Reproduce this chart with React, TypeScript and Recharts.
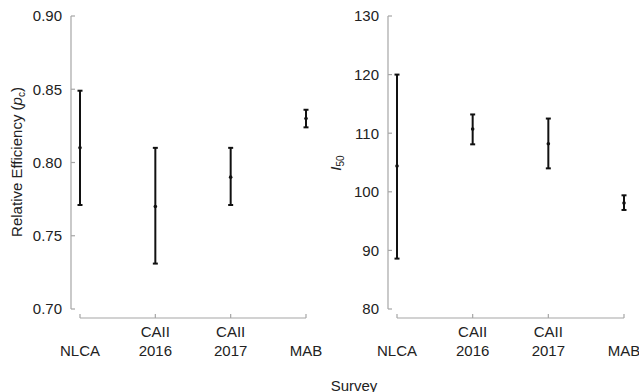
import { ScatterChart, Scatter, XAxis, YAxis, ErrorBar, Label } from "recharts"

const surveys = ["NLCA", "CAII\n2016", "CAII\n2017", "MAB"]

const effMean = [0.81, 0.77, 0.79, 0.83]
const effLow = [0.771, 0.731, 0.771, 0.824]
const effHigh = [0.849, 0.81, 0.81, 0.836]
const effTicks = [0.7, 0.75, 0.8, 0.85, 0.9]

const i50Mean = [104.4, 110.7, 108.2, 98.1]
const i50Low = [88.6, 108.1, 104.0, 96.9]
const i50High = [120.0, 113.2, 112.5, 99.4]
const i50Ticks = [80, 90, 100, 110, 120, 130]

const toRows = (mean: number[], low: number[], high: number[]) =>
  mean.map((m, i) => ({ x: i, y: m, err: [m - low[i], high[i] - m] }))

const effData = toRows(effMean, effLow, effHigh)
const i50Data = toRows(i50Mean, i50Low, i50High)

const FONT = "'Liberation Sans', Arial, sans-serif"
const AXIS = "#a6a6a6"
const TEXT = "#222"
const INK = "#111"

const SurveyTick = (props: any) => {
  const { x, y, payload } = props
  const lines = surveys[payload.value].split("\n")
  const start = lines.length === 1 ? 37.5 : 19
  return (
    <text x={x} y={y} textAnchor="middle" fill={TEXT} fontSize={15} fontFamily={FONT}>
      {lines.map((l, i) => (
        <tspan key={i} x={x} y={y + start + i * 18.5}>
          {l}
        </tspan>
      ))}
    </text>
  )
}

const Dot = (props: any) => <circle cx={props.cx} cy={props.cy} r={1.8} fill={INK} />

const EffTitle = () => (
  <text
    x={21.5}
    y={162}
    transform="rotate(-90, 21.5, 162)"
    textAnchor="middle"
    fill={TEXT}
    fontSize={15}
    fontFamily={FONT}
  >
    Relative Efficiency (<tspan fontStyle="italic">p</tspan>
    <tspan dy={3} fontSize={10}>c</tspan>
    <tspan dy={-3}>)</tspan>
  </text>
)

const I50Title = () => (
  <text
    x={20.5}
    y={163}
    transform="rotate(-90, 20.5, 163)"
    textAnchor="middle"
    fill={TEXT}
    fontSize={15}
    fontFamily={FONT}
  >
    <tspan fontStyle="italic">I</tspan>
    <tspan dy={3} fontSize={10}>50</tspan>
  </text>
)

const SurveyTitle = () => (
  <text x={34} y={390.5} textAnchor="middle" fill={TEXT} fontSize={15} fontFamily={FONT}>
    Survey
  </text>
)

const Panel = (props: {
  data: any[]
  width: number
  yWidth: number
  right: number
  domain: [number, number]
  ticks: number[]
  digits: number
  title: any
  extra?: any
}) => {
  const { data, width, yWidth, right, domain, ticks, digits } = props
  const xLen = width - yWidth - right
  return (
    <ScatterChart width={width} height={392} margin={{ top: 16, right, bottom: 0, left: 0 }}>
      <XAxis
        type="number"
        dataKey="x"
        domain={[0, 3]}
        ticks={[0, 1, 2, 3]}
        padding={{ left: 9, right: 0 }}
        height={74}
        axisLine={{ stroke: AXIS, strokeWidth: 1.2, strokeDasharray: `0 9 ${xLen + 20}` }}
        tickLine={{ stroke: AXIS, strokeWidth: 1.2 }}
        tickSize={-4}
        tickMargin={4}
        tick={<SurveyTick />}
        interval={0}
      >
        {props.extra}
      </XAxis>
      <YAxis
        type="number"
        dataKey="y"
        domain={domain}
        ticks={ticks}
        padding={{ top: 0, bottom: 9 }}
        width={yWidth}
        axisLine={{ stroke: AXIS, strokeWidth: 1.2, strokeDasharray: "293 40" }}
        tickLine={{ stroke: AXIS, strokeWidth: 1.2 }}
        tickSize={-4}
        tickMargin={13}
        tickFormatter={(v: number) => v.toFixed(digits)}
        tick={{ fill: TEXT, fontSize: 15, fontFamily: FONT }}
        interval={0}
      >
        <Label content={props.title} />
      </YAxis>
      <Scatter data={data} shape={<Dot />} isAnimationActive={false}>
        <ErrorBar dataKey="err" direction="y" width={2.5} strokeWidth={2} stroke={INK} isAnimationActive={false} />
      </Scatter>
    </ScatterChart>
  )
}

export default function App() {
  return (
    <div style={{ position: "absolute", left: 0, top: 0, width: 639, height: 392, display: "flex", background: "#fff" }}>
      <style>{".recharts-surface{overflow:visible}.recharts-wrapper{overflow:visible}"}</style>
      <div style={{ position: "relative", zIndex: 1 }}>
        <Panel data={effData} width={320} yWidth={71} right={14} domain={[0.7, 0.9]} ticks={effTicks} digits={2} title={<EffTitle />} />
      </div>
      <Panel
        data={i50Data}
        width={319}
        yWidth={68}
        right={15}
        domain={[80, 130]}
        ticks={i50Ticks}
        digits={0}
        title={<I50Title />}
        extra={<Label content={<SurveyTitle />} />}
      />
    </div>
  )
}
